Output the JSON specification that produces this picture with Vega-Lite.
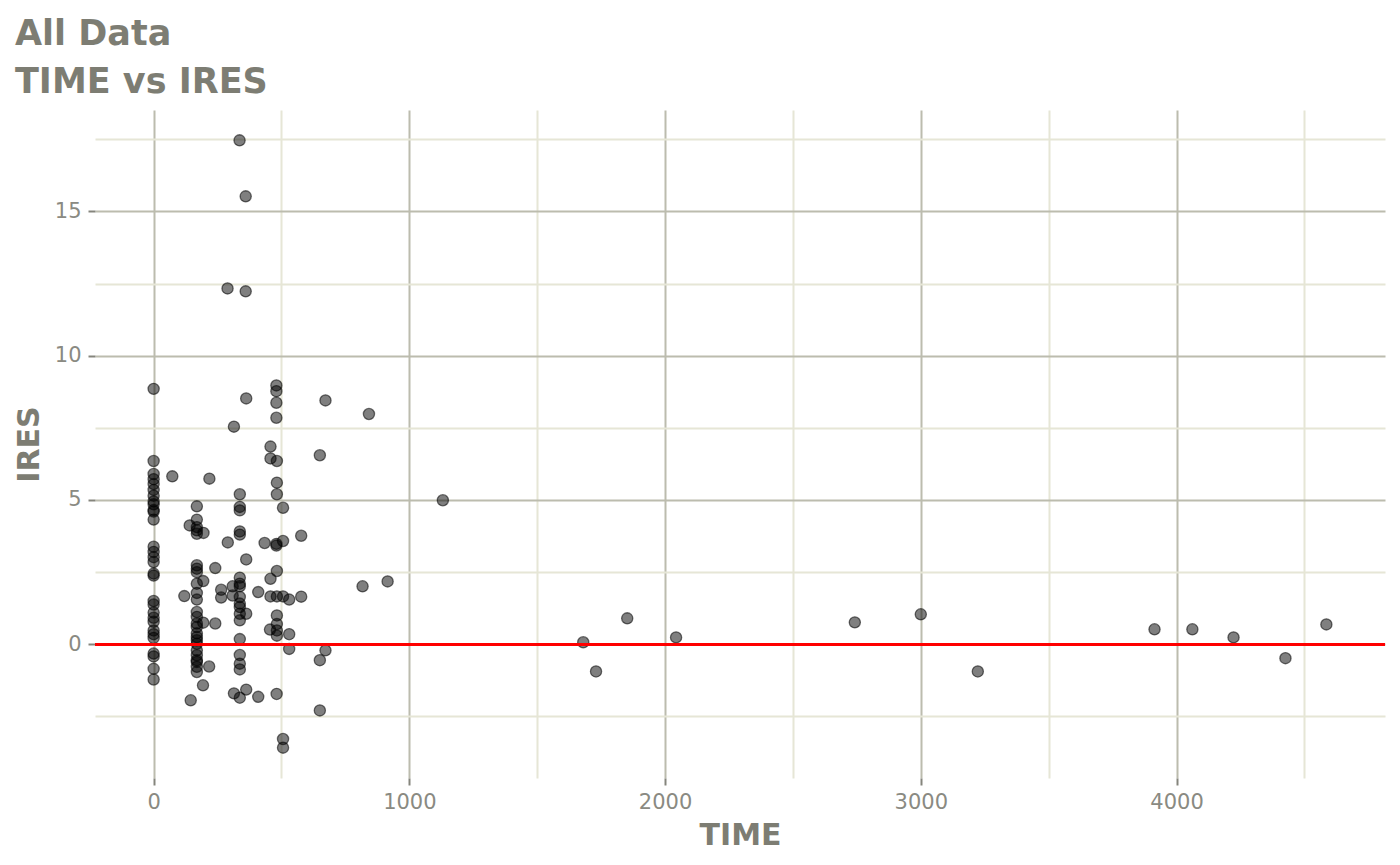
{
  "$schema": "https://vega.github.io/schema/vega-lite/v6.json",
  "width": 1290,
  "height": 668,
  "autosize": {"type": "none"},
  "padding": {"left": 95, "top": 110, "right": 15, "bottom": 87},
  "background": "white",
  "title": {
    "text": ["All Data", "TIME vs IRES"],
    "anchor": "start",
    "frame": "group",
    "dx": -80,
    "offset": 10,
    "font": "DejaVu Sans",
    "fontSize": 35,
    "fontWeight": "bold",
    "color": "#7d7d73",
    "lineHeight": 48
  },
  "config": {
    "view": {"stroke": null},
    "axis": {
      "labelFont": "DejaVu Sans",
      "titleFont": "DejaVu Sans",
      "labelColor": "#8a8a82",
      "titleColor": "#7d7d73",
      "labelFontSize": 21,
      "titleFontSize": 30,
      "titleFontWeight": "bold",
      "domain": false,
      "tickColor": "#85857c",
      "tickSize": 7,
      "tickWidth": 2,
      "gridWidth": 2
    }
  },
  "data": {
    "values": [
      {"TIME": 0, "IRES": 8.85}, {"TIME": 0, "IRES": 6.35}, {"TIME": 0, "IRES": 5.9}, {"TIME": 0, "IRES": 5.72},
      {"TIME": 0, "IRES": 5.55}, {"TIME": 0, "IRES": 5.35}, {"TIME": 0, "IRES": 5.15}, {"TIME": 0, "IRES": 4.95},
      {"TIME": 0, "IRES": 4.85}, {"TIME": 0, "IRES": 4.65}, {"TIME": 0, "IRES": 4.6}, {"TIME": 0, "IRES": 4.32},
      {"TIME": 0, "IRES": 3.38}, {"TIME": 0, "IRES": 3.2}, {"TIME": 0, "IRES": 3.02}, {"TIME": 0, "IRES": 2.85},
      {"TIME": 0, "IRES": 2.45}, {"TIME": 0, "IRES": 2.38}, {"TIME": 0, "IRES": 1.5}, {"TIME": 0, "IRES": 1.38},
      {"TIME": 0, "IRES": 1.1}, {"TIME": 0, "IRES": 0.92}, {"TIME": 0, "IRES": 0.78}, {"TIME": 0, "IRES": 0.48},
      {"TIME": 0, "IRES": 0.35}, {"TIME": 0, "IRES": 0.22}, {"TIME": 0, "IRES": -0.32}, {"TIME": 0, "IRES": -0.42},
      {"TIME": 0, "IRES": -0.85}, {"TIME": 0, "IRES": -1.22},
      {"TIME": 169, "IRES": 4.78}, {"TIME": 169, "IRES": 4.32}, {"TIME": 169, "IRES": 4.06}, {"TIME": 169, "IRES": 3.95},
      {"TIME": 169, "IRES": 3.83}, {"TIME": 169, "IRES": 2.74}, {"TIME": 169, "IRES": 2.62}, {"TIME": 169, "IRES": 2.5},
      {"TIME": 169, "IRES": 2.1}, {"TIME": 169, "IRES": 1.78}, {"TIME": 169, "IRES": 1.55}, {"TIME": 169, "IRES": 1.12},
      {"TIME": 169, "IRES": 0.95}, {"TIME": 169, "IRES": 0.72}, {"TIME": 169, "IRES": 0.6}, {"TIME": 169, "IRES": 0.38},
      {"TIME": 169, "IRES": 0.25}, {"TIME": 169, "IRES": 0.14}, {"TIME": 169, "IRES": 0.02}, {"TIME": 169, "IRES": -0.21},
      {"TIME": 169, "IRES": -0.38}, {"TIME": 169, "IRES": -0.55}, {"TIME": 169, "IRES": -0.61}, {"TIME": 169, "IRES": -0.78},
      {"TIME": 169, "IRES": -0.96},
      {"TIME": 141, "IRES": 4.12}, {"TIME": 195, "IRES": 3.86}, {"TIME": 73, "IRES": 5.82}, {"TIME": 218, "IRES": 5.74},
      {"TIME": 241, "IRES": 2.64}, {"TIME": 194, "IRES": 2.19}, {"TIME": 120, "IRES": 1.67}, {"TIME": 264, "IRES": 1.89},
      {"TIME": 264, "IRES": 1.62}, {"TIME": 194, "IRES": 0.75}, {"TIME": 241, "IRES": 0.72}, {"TIME": 217, "IRES": -0.77},
      {"TIME": 193, "IRES": -1.42}, {"TIME": 145, "IRES": -1.94},
      {"TIME": 337, "IRES": 5.2}, {"TIME": 337, "IRES": 4.76}, {"TIME": 337, "IRES": 4.64}, {"TIME": 337, "IRES": 3.91},
      {"TIME": 337, "IRES": 3.8}, {"TIME": 337, "IRES": 2.31}, {"TIME": 337, "IRES": 2.1}, {"TIME": 337, "IRES": 2.01},
      {"TIME": 337, "IRES": 1.64}, {"TIME": 337, "IRES": 1.41}, {"TIME": 337, "IRES": 1.29}, {"TIME": 337, "IRES": 1.06},
      {"TIME": 337, "IRES": 0.83}, {"TIME": 337, "IRES": 0.18}, {"TIME": 337, "IRES": -0.37}, {"TIME": 337, "IRES": -0.67},
      {"TIME": 337, "IRES": -0.87}, {"TIME": 337, "IRES": -1.85}, {"TIME": 336, "IRES": 17.46},
      {"TIME": 314, "IRES": 7.54}, {"TIME": 290, "IRES": 3.53}, {"TIME": 309, "IRES": 2.01}, {"TIME": 309, "IRES": 1.69},
      {"TIME": 362, "IRES": 2.94}, {"TIME": 362, "IRES": 1.06}, {"TIME": 362, "IRES": 8.52}, {"TIME": 360, "IRES": 15.52},
      {"TIME": 289, "IRES": 12.33}, {"TIME": 360, "IRES": 12.23}, {"TIME": 314, "IRES": -1.7}, {"TIME": 362, "IRES": -1.57},
      {"TIME": 409, "IRES": 1.81}, {"TIME": 409, "IRES": -1.82}, {"TIME": 434, "IRES": 3.51},
      {"TIME": 480, "IRES": 8.97}, {"TIME": 480, "IRES": 8.77}, {"TIME": 480, "IRES": 8.37}, {"TIME": 480, "IRES": 7.85},
      {"TIME": 482, "IRES": 6.35}, {"TIME": 482, "IRES": 5.6}, {"TIME": 482, "IRES": 5.2}, {"TIME": 480, "IRES": 3.48},
      {"TIME": 480, "IRES": 3.42}, {"TIME": 482, "IRES": 2.54}, {"TIME": 482, "IRES": 1.66}, {"TIME": 482, "IRES": 1.0},
      {"TIME": 482, "IRES": 0.7}, {"TIME": 482, "IRES": 0.48}, {"TIME": 482, "IRES": 0.3}, {"TIME": 481, "IRES": -1.72},
      {"TIME": 457, "IRES": 6.85}, {"TIME": 457, "IRES": 6.44}, {"TIME": 457, "IRES": 2.27}, {"TIME": 457, "IRES": 1.66},
      {"TIME": 455, "IRES": 0.51}, {"TIME": 506, "IRES": 4.73}, {"TIME": 506, "IRES": 3.58}, {"TIME": 506, "IRES": 1.66},
      {"TIME": 506, "IRES": -3.28}, {"TIME": 506, "IRES": -3.58}, {"TIME": 530, "IRES": 1.55}, {"TIME": 530, "IRES": 0.35},
      {"TIME": 530, "IRES": -0.16}, {"TIME": 577, "IRES": 3.76}, {"TIME": 577, "IRES": 1.65}, {"TIME": 650, "IRES": 6.55},
      {"TIME": 650, "IRES": -0.55}, {"TIME": 650, "IRES": -2.29}, {"TIME": 672, "IRES": 8.45}, {"TIME": 672, "IRES": -0.21},
      {"TIME": 817, "IRES": 2.01}, {"TIME": 842, "IRES": 7.98}, {"TIME": 915, "IRES": 2.18}, {"TIME": 1131, "IRES": 4.99},
      {"TIME": 1680, "IRES": 0.07}, {"TIME": 1730, "IRES": -0.94}, {"TIME": 1852, "IRES": 0.9}, {"TIME": 2043, "IRES": 0.24},
      {"TIME": 2742, "IRES": 0.76}, {"TIME": 3000, "IRES": 1.04}, {"TIME": 3223, "IRES": -0.94}, {"TIME": 3914, "IRES": 0.52},
      {"TIME": 4062, "IRES": 0.52}, {"TIME": 4223, "IRES": 0.24}, {"TIME": 4426, "IRES": -0.48}, {"TIME": 4586, "IRES": 0.69}
    ]
  },
  "layer": [
    {
      "mark": {"type": "point", "opacity": 0},
      "encoding": {
        "x": {
          "field": "TIME", "type": "quantitative",
          "scale": {"domain": [-229.3, 4815.3], "nice": false, "zero": false},
          "axis": {"orient": "top", "values": [500, 1500, 2500, 3500, 4500], "grid": true, "gridColor": "#e6e6d6", "labels": false, "ticks": false, "title": null}
        },
        "y": {
          "field": "IRES", "type": "quantitative",
          "scale": {"domain": [-4.632, 18.512], "nice": false, "zero": false},
          "axis": {"orient": "right", "values": [-2.5, 2.5, 7.5, 12.5, 17.5], "grid": true, "gridColor": "#e6e6d6", "labels": false, "ticks": false, "title": null}
        }
      }
    },
    {
      "mark": {"type": "point", "filled": true, "size": 125, "fill": "black", "fillOpacity": 0.5, "stroke": "black", "strokeOpacity": 0.55, "strokeWidth": 1.3},
      "encoding": {
        "x": {
          "field": "TIME", "type": "quantitative",
          "axis": {"orient": "bottom", "values": [0, 1000, 2000, 3000, 4000], "format": "d", "grid": true, "gridColor": "#bcbcae", "labelPadding": 6, "titlePadding": 8, "title": "TIME"}
        },
        "y": {
          "field": "IRES", "type": "quantitative",
          "axis": {"orient": "left", "values": [0, 5, 10, 15], "format": "d", "grid": true, "gridColor": "#bcbcae", "labelPadding": 7, "titlePadding": 10, "title": "IRES"}
        }
      }
    },
    {
      "mark": {"type": "rule", "color": "#ff0000", "strokeWidth": 2.5},
      "encoding": {"y": {"datum": 0, "axis": null}}
    }
  ],
  "resolve": {"axis": {"x": "independent", "y": "independent"}}
}
